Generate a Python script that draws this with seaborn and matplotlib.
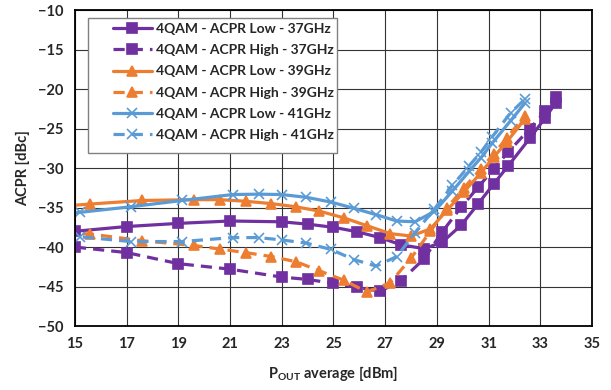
import numpy as np
import matplotlib
matplotlib.use("Agg")
import matplotlib.pyplot as plt
from matplotlib.patches import Rectangle
import seaborn as sns

# 37GHz (squares)
x37 = [15, 17, 19, 21, 23, 24, 25, 25.9, 26.8, 27.6, 28.5, 29.2, 29.95, 30.6, 31.2, 31.75, 32.6, 33.2, 33.6]
low37 = [-38.0, -37.4, -37.0, -36.7, -36.8, -37.1, -37.5, -38.05, -38.8, -39.7, -40.2, -39.4,
         -37.2, -34.5, -32.0, -29.75, -26.2, -23.6, -21.7]
high37 = [-40.0, -40.7, -42.1, -42.8, -43.8, -44.1, -44.6, -45.1, -45.6, -44.3, -41.5, -38.1,
          -34.9, -32.4, -30.1, -28.0, -25.0, -22.8, -21.0]

# 39GHz (triangles)
x39 = [14.6, 15.6, 17.6, 19.6, 20.6, 21.6, 22.6, 23.55, 24.45, 25.4, 26.3, 27.2, 28.0,
       28.75, 29.4, 30.05, 30.7, 31.2, 31.7, 32.4]
low39 = [-34.8, -34.55, -34.1, -34.0, -34.0, -34.2, -34.5, -34.9, -35.45, -36.3, -37.3, -38.3, -38.6,
         -37.7, -35.3, -33.0, -30.6, -28.6, -26.7, -23.8]
high39 = [-38.2, -38.35, -39.2, -39.8, -40.25, -40.7, -41.2, -41.85, -43.0, -44.2, -45.7, -44.5, -41.4,
          -38.0, -35.0, -32.5, -30.1, -28.2, -26.2, -23.4]

# 41GHz (crosses)
x41 = [14.6, 15.2, 17.15, 19.15, 21.1, 22.1, 23.0, 23.95, 24.9, 25.8, 26.65, 27.45, 28.15,
       28.9, 29.6, 30.25, 30.7, 31.15, 31.85, 32.4]
low41 = [-35.8, -35.6, -34.9, -34.1, -33.35, -33.3, -33.35, -33.7, -34.3, -35.1, -35.9, -36.7, -36.8,
         -35.5, -32.9, -30.4, -28.7, -26.8, -24.0, -21.8]
high41 = [-38.6, -38.7, -39.3, -39.3, -38.8, -38.8, -39.1, -39.5, -40.3, -41.6, -42.4, -41.2, -38.2,
          -35.2, -32.2, -29.7, -28.0, -26.0, -23.0, -21.3]

x_ticks = list(range(15, 36, 2))
y_ticks = list(range(-50, -9, 5))

purple = "#7030A0"
orange = "#ED7D31"
blue = "#5B9BD5"

sns.set_style("white")
plt.rcParams["font.family"] = ["Lato", "DejaVu Sans"]
plt.rcParams["font.weight"] = "bold"
plt.rcParams["mathtext.fontset"] = "custom"
plt.rcParams["mathtext.rm"] = "Lato:bold"
plt.rcParams["mathtext.bf"] = "Lato:bold"

fig = plt.figure(figsize=(6.11, 3.90), dpi=100)
ax = fig.add_axes([0.1227, 0.164, 0.8462, 0.810])

series = [
    (x37, low37, purple, "s", "-", 6.5, "4QAM - ACPR Low - 37GHz"),
    (x37, high37, purple, "s", "--", 6.5, "4QAM - ACPR High - 37GHz"),
    (x39, low39, orange, "^", "-", 7.5, "4QAM - ACPR Low - 39GHz"),
    (x39, high39, orange, "^", "--", 7.5, "4QAM - ACPR High - 39GHz"),
    (x41, low41, blue, "x", "-", 6.5, "4QAM - ACPR Low - 41GHz"),
    (x41, high41, blue, "x", "--", 6.5, "4QAM - ACPR High - 41GHz"),
]

for xs, ys, col, mk, ls, ms, lab in series:
    kw = dict(dashes=(3.5, 2.2)) if ls == "--" else {}
    sns.lineplot(x=xs, y=ys, ax=ax, color=col, marker=mk, markersize=ms,
                 markeredgecolor=col, markeredgewidth=1.2, linewidth=2.3,
                 label=lab, sort=False, **kw)

ax.set_xlim(15, 35)
ax.set_ylim(-50, -10)
ax.set_xticks(x_ticks)
ax.set_yticks(y_ticks)
ax.tick_params(axis="both", length=0, labelsize=10.5, pad=8)
for t in ax.get_xticklabels() + ax.get_yticklabels():
    t.set_fontweight("bold")
ax.grid(True, color="#333333", linewidth=0.8)
for s in ax.spines.values():
    s.set_color("black")
    s.set_linewidth(1.3)

ax.set_xlabel(r"P$_{\mathrm{OUT}}$ average [dBm]", fontsize=10.5, fontweight="bold", labelpad=9)
ax.set_ylabel("ACPR [dBc]", fontsize=10.5, fontweight="bold", labelpad=6)

# legend box (white, grey edge) with extra room left of the handles
box = Rectangle((0.0251, 0.5475), 0.4817, 0.4272, transform=ax.transAxes,
                facecolor="white", edgecolor="#808080", linewidth=1.0, zorder=4.5)
ax.add_patch(box)
leg = ax.legend(loc="upper left", bbox_to_anchor=(0.0735, 0.959), borderaxespad=0, borderpad=0,
                fontsize=10, handlelength=2.8, handletextpad=0.3, labelspacing=0.66,
                frameon=False)
leg.set_zorder(5)
for t in leg.get_texts():
    t.set_fontweight("bold")

fig.savefig("out.png", dpi=100)
